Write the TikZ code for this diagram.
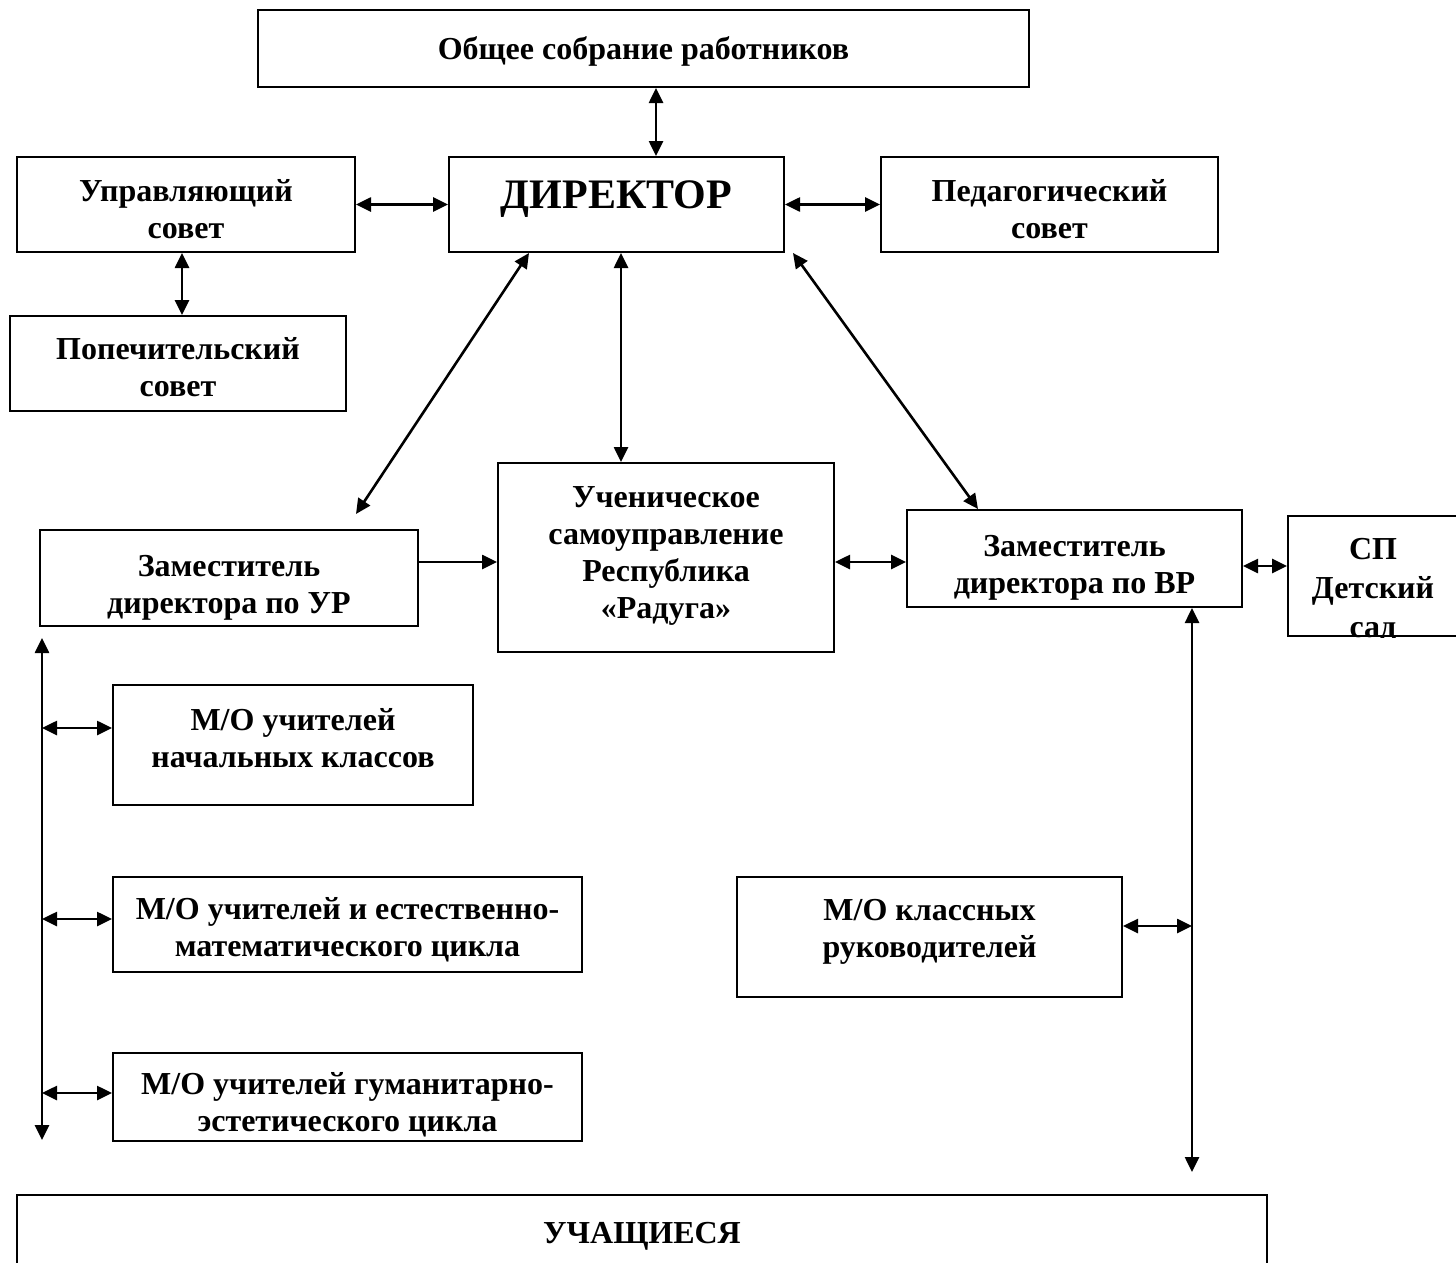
\documentclass[tikz,border=0pt]{standalone}
\usepackage{fontspec}
\setmainfont{Liberation Serif}
\usetikzlibrary{arrows.meta}
\begin{document}
\begin{tikzpicture}[x=1pt,y=-1pt,
 frame/.style={draw,line width=2pt,inner sep=0pt},
 txt/.style={align=center,inner sep=0pt,font=\bfseries\fontsize{32}{37}\selectfont},
 dbl/.style={line width=2.6pt,{Triangle[length=15pt,width=14pt]}-{Triangle[length=15pt,width=14pt]}},
 sgl/.style={line width=2.6pt,-{Triangle[length=15pt,width=14pt]}}]
\useasboundingbox (0,0) rectangle (1456,1263);
\clip (0,0) rectangle (1456,1263);
\fill[white] (0,0) rectangle (1456,1263);
% boxes
\node[frame,minimum width=771pt,minimum height=77pt] (gen) at (643.5,48.5) {};
\node[txt] (t-gen) at ([yshift=-3pt]gen.center) {Общее собрание работников};
\node[frame,minimum width=338pt,minimum height=95pt] (upr) at (186,204.5) {};
\node[txt] (t-upr) at ([yshift=-5pt]upr.center) {Управляющий\\совет};
\node[frame,minimum width=335pt,minimum height=95pt] (dir) at (616.5,204.5) {};
\node[txt,font=\bfseries\fontsize{42}{48}\selectfont] (t-dir) at ([yshift=5pt]dir.center) {ДИРЕКТОР};
\node[frame,minimum width=337pt,minimum height=95pt] (ped) at (1049.5,204.5) {};
\node[txt] (t-ped) at ([yshift=-5pt]ped.center) {Педагогический\\совет};
\node[frame,minimum width=336pt,minimum height=95pt] (pop) at (178,363.5) {};
\node[txt] (t-pop) at ([yshift=-4pt]pop.center) {Попечительский\\совет};
\node[frame,minimum width=336pt,minimum height=189pt] (uch) at (666,557.5) {};
\node[txt] (t-uch) at ([yshift=1.5pt]uch.center) {Ученическое\\самоуправление\\Республика\\«Радуга»};
\node[frame,minimum width=378pt,minimum height=96pt] (zur) at (229,578) {};
\node[txt] (t-zur) at ([yshift=-10pt]zur.center) {Заместитель\\директора по УР};
\node[frame,minimum width=335pt,minimum height=97pt] (zvr) at (1074.5,558.5) {};
\node[txt] (t-zvr) at ([yshift=-9pt]zvr.center) {Заместитель\\директора по ВР};
\node[frame,minimum width=182pt,minimum height=120pt] (sp) at (1379,576) {};
\begin{scope}
\clip (sp.south west) rectangle (sp.north east);
\node[txt,font=\bfseries\fontsize{32}{39}\selectfont] (t-sp) at (1373,591) {СП\\Детский\\сад};
\end{scope}
\node[frame,minimum width=360pt,minimum height=120pt] (mo1) at (293,745) {};
\node[txt] (t-mo1) at ([yshift=7pt]mo1.center) {М/О учителей\\начальных классов};
\node[frame,minimum width=469pt,minimum height=95pt] (mo2) at (347.5,924.5) {};
\node[txt] (t-mo2) at ([yshift=-5pt]mo2.center) {М/О учителей и естественно-\\математического цикла};
\node[frame,minimum width=469pt,minimum height=88pt] (mo3) at (347.5,1097) {};
\node[txt] (t-mo3) at ([yshift=-8pt]mo3.center) {М/О учителей гуманитарно-\\эстетического цикла};
\node[frame,minimum width=385pt,minimum height=120pt] (mokl) at (929.5,937) {};
\node[txt] (t-mokl) at ([yshift=5pt]mokl.center) {М/О классных\\руководителей};
\node[frame,minimum width=1250pt,minimum height=80pt] (stud) at (642,1235) {};
\node[txt] (t-stud) at ([yshift=-1pt]stud.center) {УЧАЩИЕСЯ};
% helper coordinates
\coordinate (a1) at (656,0);
\coordinate (a2) at (182,0);
\coordinate (a3) at (621,0);
\coordinate (c562) at (0,562);
\coordinate (c566) at (0,566);
\coordinate (lt) at (42,638);
\coordinate (lb) at (42,1140);
\coordinate (h1) at (42,728);
\coordinate (h2) at (42,919);
\coordinate (h3) at (42,1093);
\coordinate (rb) at (1192,1172);
\coordinate (h4) at (1192,926);
% connectors
\draw[dbl] (gen.south -| a1) -- (dir.north -| a1);
\draw[dbl] (upr.east) -- (dir.west);
\draw[dbl] (dir.east) -- (ped.west);
\draw[dbl] (upr.south -| a2) -- (pop.north -| a2);
\draw[dbl] ([xshift=-87.5pt]dir.south) -- ([xshift=127pt,yshift=15pt]zur.north);
\draw[dbl] (dir.south -| a3) -- (uch.north -| a3);
\draw[dbl] ([xshift=8pt]dir.south east) -- ([xshift=-96.5pt]zvr.north);
\draw[sgl] (zur.east |- c562) -- (uch.west |- c562);
\draw[dbl] (uch.east |- c562) -- (zvr.west |- c562);
\draw[dbl] (zvr.east |- c566) -- (sp.west |- c566);
\draw[dbl] (lt) -- (lb);
\draw[dbl] (h1) -- (mo1.west |- h1);
\draw[dbl] (h2) -- (mo2.west |- h2);
\draw[dbl] (h3) -- (mo3.west |- h3);
\draw[dbl] (zvr.south -| rb) -- (rb);
\draw[dbl] (mokl.east |- h4) -- (h4);
\end{tikzpicture}
\end{document}
